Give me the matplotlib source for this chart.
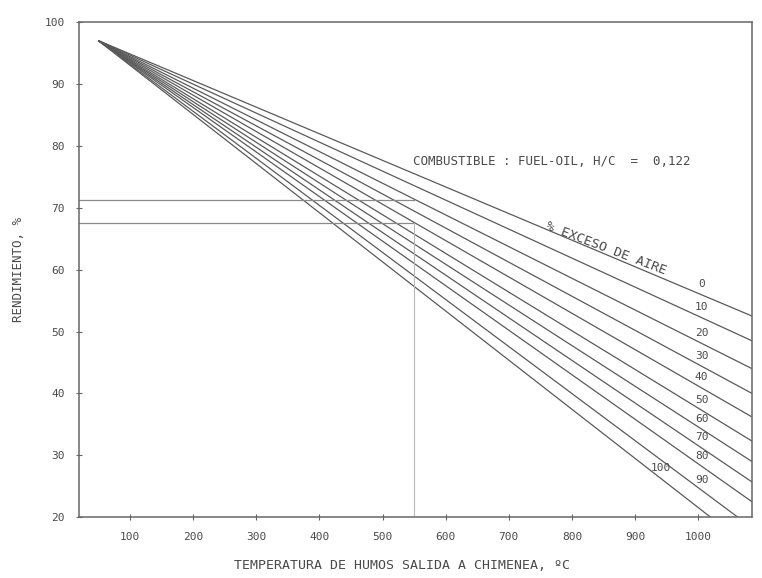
import numpy as np
import matplotlib
matplotlib.use("Agg")
import matplotlib.pyplot as plt

# ---- data ----
excess_air = [0, 10, 20, 30, 40, 50, 60, 70, 80, 90, 100]          # % exceso de aire
start_temp = 50                                                      # ºC, common origin of all lines
start_eff = 97.0                                                     # %, common origin
end_temp = 1085                                                      # ºC, right edge
end_eff = [52.5, 48.5, 44.0, 40.0, 36.2, 32.3, 29.0, 25.7, 22.5, 18.3, 14.8]  # % at end_temp

x_ticks = [100, 200, 300, 400, 500, 600, 700, 800, 900, 1000]
y_ticks = [20, 30, 40, 50, 60, 70, 80, 90, 100]

ref_temp = 550          # vertical reading line
ref_eff_upper = 71.3
ref_eff_lower = 67.6

label_temp = [1005, 1005, 1005, 1005, 1005, 1005, 1005, 1005, 1005, 1005, 940]

# ---- figure ----
ink = "#4a4a4a"
mono = "DejaVu Sans Mono"
fig = plt.figure(figsize=(7.62, 5.78), dpi=100)
ax = fig.add_axes([0.104, 0.105, 0.883, 0.857])
ax.set_xlim(20, 1085)
ax.set_ylim(20, 100)

for ea, ye in zip(excess_air, end_eff):
    ax.plot([start_temp, end_temp], [start_eff, ye], color="#5a5a5a", lw=0.9,
            solid_capstyle="butt")

# reading lines
ax.plot([20, ref_temp], [ref_eff_upper, ref_eff_upper], color="#8a8a8a", lw=0.9)
ax.plot([20, ref_temp], [ref_eff_lower, ref_eff_lower], color="#8a8a8a", lw=0.9)
ax.plot([ref_temp, ref_temp], [20, ref_eff_lower], color="#b8b8b8", lw=0.8)

# labels near right end
for ea, ye, lt in zip(excess_air, end_eff, label_temp):
    slope = (ye - start_eff) / (end_temp - start_temp)
    yv = start_eff + slope * (lt - start_temp)
    ax.text(lt, yv + 1.7, str(ea), fontsize=8, color=ink, family=mono,
            ha="center", va="center")

ax.text(548, 77.4, "COMBUSTIBLE : FUEL-OIL, H/C  =  0,122", fontsize=9, color=ink,
        family=mono, ha="left", va="center")

# rotated title along the 0 % line
p0 = ax.transData.transform((start_temp, start_eff))
p1 = ax.transData.transform((end_temp, end_eff[0]))
ang = np.degrees(np.arctan2(p1[1] - p0[1], p1[0] - p0[0])) + 2
t_c = 850
y_c = start_eff + (end_eff[0] - start_eff) / (end_temp - start_temp) * (t_c - start_temp)
ax.text(t_c, y_c - 0.2, "% EXCESO DE AIRE", fontsize=9.5, color=ink, family=mono,
        rotation=ang, rotation_mode="anchor", ha="center", va="bottom")

ax.set_xticks(x_ticks)
ax.set_yticks(y_ticks)
ax.set_xticklabels([str(v) for v in x_ticks], family=mono, fontsize=8, color=ink)
ax.set_yticklabels([str(v) for v in y_ticks], family=mono, fontsize=8, color=ink)
ax.tick_params(direction="inout", length=5, width=0.8, color="#666666", pad=8)
for s in ax.spines.values():
    s.set_color("#666666")
    s.set_linewidth(1.1)

ax.set_xlabel("TEMPERATURA DE HUMOS SALIDA A CHIMENEA, ºC", family=mono, fontsize=9.5,
              color=ink)
ax.xaxis.set_label_coords(0.48, -0.085)
ax.set_ylabel("RENDIMIENTO, %", family=mono, fontsize=9, color=ink)
ax.yaxis.set_label_coords(-0.08, 0.5)

fig.savefig("out.png", dpi=100)
